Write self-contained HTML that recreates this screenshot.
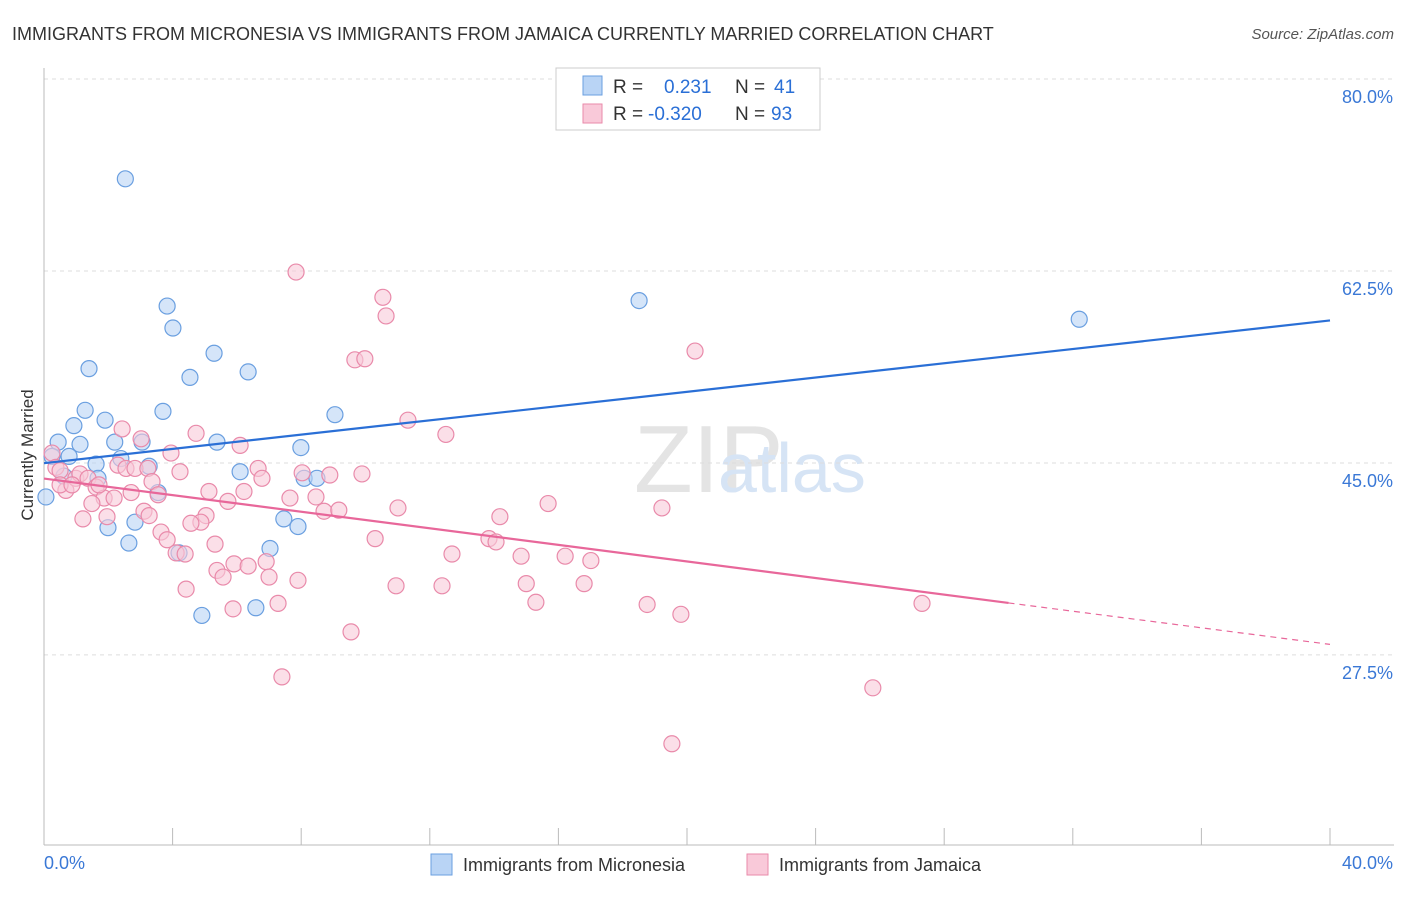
<!DOCTYPE html>
<html><head><meta charset="utf-8"><style>
body{margin:0;background:#fff;font-family:"Liberation Sans",sans-serif;}
svg text{font-family:"Liberation Sans",sans-serif;}
</style></head><body>
<svg id="c" width="1406" height="892" xmlns="http://www.w3.org/2000/svg">
<text x="12" y="40" font-size="18" fill="#333">IMMIGRANTS FROM MICRONESIA VS IMMIGRANTS FROM JAMAICA CURRENTLY MARRIED CORRELATION CHART</text>
<text x="1394" y="39" font-size="15" fill="#555" font-style="italic" text-anchor="end">Source: ZipAtlas.com</text>
<text x="634" y="492" font-size="96" fill="#e4e4e4" font-family="Liberation Serif">ZIP</text>
<text x="718" y="492" font-size="70" fill="#d6e4f5">atlas</text>
<text transform="translate(33,455) rotate(-90)" font-size="17" fill="#333" text-anchor="middle">Currently Married</text>
<g id="grid"></g><g id="axes"></g><g id="marks"></g>
<g>
<rect x="556" y="68" width="264" height="62" fill="#fff" stroke="#ccc"/>
<rect x="583" y="76" width="19" height="19" fill="#b9d4f5" stroke="#6a9fe0"/>
<rect x="583" y="104" width="19" height="19" fill="#f9c9d9" stroke="#e98aaa"/>
<text x="613" y="93" font-size="19" fill="#333">R =</text><text x="664" y="93" font-size="19" fill="#2a6fd6">0.231</text>
<text x="735" y="93" font-size="19" fill="#333">N =</text><text x="774" y="93" font-size="19" fill="#2a6fd6">41</text>
<text x="613" y="120" font-size="19" fill="#333">R =</text><text x="648" y="120" font-size="19" fill="#2a6fd6">-0.320</text>
<text x="735" y="120" font-size="19" fill="#333">N =</text><text x="771" y="120" font-size="19" fill="#2a6fd6">93</text>
</g>
<g>
<rect x="431" y="854" width="21" height="21" fill="#b9d4f5" stroke="#6a9fe0"/>
<text x="463" y="871" font-size="18" fill="#333">Immigrants from Micronesia</text>
<rect x="747" y="854" width="21" height="21" fill="#f9c9d9" stroke="#e98aaa"/>
<text x="779" y="871" font-size="18" fill="#333">Immigrants from Jamaica</text>
</g>
</svg>
<script>
const yTicks=[80,62.5,45,27.5];
const yTickLabels=["80.0%","62.5%","45.0%","27.5%"];
const xTickLabels=["0.0%","40.0%"];
const blueX=[2.53,3.83,4.01,18.51,32.20,1.40,5.29,4.54,6.35,1.28,3.70,1.90,0.93,9.05,0.44,1.12,2.20,3.05,5.38,7.99,0.25,0.78,2.39,1.62,3.27,6.10,1.68,0.62,8.09,8.49,0.06,3.55,2.83,1.99,7.46,7.90,2.64,7.03,4.20,4.91,6.59];
const blueY=[70.9,59.3,57.3,59.8,58.1,53.6,55.0,52.8,53.3,49.8,49.7,48.9,48.4,49.4,46.9,46.7,46.9,46.9,46.9,46.4,45.6,45.6,45.4,44.9,44.7,44.2,43.6,43.8,43.6,43.6,41.9,42.3,39.6,39.1,39.9,39.2,37.7,37.2,36.8,31.1,31.8];
const pinkX=[7.84,10.54,10.64,20.25,9.67,9.98,11.32,12.50,4.73,6.10,3.02,2.43,0.25,0.37,0.50,0.68,0.99,1.12,1.37,1.62,1.87,1.49,2.18,2.30,2.55,2.71,2.83,3.23,3.36,3.55,3.11,3.27,1.96,1.21,3.95,4.23,5.13,5.72,6.22,6.66,6.78,5.04,4.88,4.57,3.64,3.83,4.11,4.39,5.32,5.38,5.57,5.91,6.35,6.91,7.00,4.42,5.88,7.28,7.90,7.65,8.03,8.46,8.71,8.89,9.17,9.89,10.30,11.01,10.95,12.38,12.69,13.84,14.06,14.18,14.84,15.00,15.30,15.68,16.21,16.80,17.01,18.76,19.22,19.81,9.55,7.40,25.78,19.53,27.31,0.50,0.87,1.71];
const pinkY=[62.4,60.1,58.4,55.2,54.4,54.5,48.9,47.6,47.7,46.6,47.2,48.1,45.9,44.6,44.3,42.5,43.6,44.0,43.6,42.8,41.8,41.3,41.8,44.8,44.5,42.3,44.5,44.5,43.3,42.1,40.6,40.2,40.1,39.9,45.9,44.2,42.4,41.5,42.4,44.5,43.6,40.2,39.6,39.5,38.7,38.0,36.8,36.7,37.6,35.2,34.6,35.8,35.6,36.0,34.6,33.5,31.7,32.2,34.3,41.8,44.1,41.9,40.6,43.9,40.7,44.0,38.1,40.9,33.8,33.8,36.7,38.1,37.8,40.1,36.5,34.0,32.3,41.3,36.5,34.0,36.1,32.1,40.9,31.2,29.6,25.5,24.5,19.4,32.2,43.0,43.0,43.0];
const X0=44,X1=1330,Y80=79,PX=10.97;
const sx=v=>X0+(v/40)*(X1-X0), sy=v=>Y80+(80-v)*PX;
const NS="http://www.w3.org/2000/svg";
function mk(t,a,p){const e=document.createElementNS(NS,t);for(const k in a)e.setAttribute(k,a[k]);document.getElementById(p).appendChild(e);return e;}
yTicks.forEach((v,i)=>{
 const g=mk("line",{x1:X0,x2:1394,y1:sy(v),y2:sy(v),stroke:"#ddd","stroke-dasharray":"4,4"},"grid");
 
 
 const t=mk("text",{x:1393,y:sy(v)+24,"font-size":18,fill:"#3a78d6","text-anchor":"end"},"axes");
 t.textContent=yTickLabels[i];
 
 
});
const ax=mk("line",{x1:X0,x2:X0,y1:68,y2:845,stroke:"#bbb"},"axes");


const bx=mk("line",{x1:X0,x2:1394,y1:845,y2:845,stroke:"#bbb"},"axes");


for(let i=0;i<=10;i++){const t=mk("line",{x1:sx(i*4),x2:sx(i*4),y1:828,y2:845,stroke:"#bbb"},"axes");
 
 }
[[0,44,"start"],[40,1393,"end"]].forEach((d,i)=>{const t=mk("text",{x:d[1],y:869,"font-size":18,fill:"#3a78d6","text-anchor":d[2]},"axes");t.textContent=xTickLabels[i];
 
 });
function pts(xs,ys,f,s,n){xs.forEach((x,i)=>{const c=mk("circle",{cx:sx(x),cy:sy(ys[i]),r:8,fill:f,"fill-opacity":0.6,stroke:s,"stroke-width":1.2},"marks");
 
 });}
pts(blueX,blueY,"#b9d4f5","#6a9fe0","micronesia-point");
pts(pinkX,pinkY,"#f9c9d9","#e98aaa","jamaica-point");
function fit(xs,ys){const n=xs.length,mx=xs.reduce((a,b)=>a+b)/n,my=ys.reduce((a,b)=>a+b)/n;let sxy=0,sxx=0;xs.forEach((x,i)=>{sxy+=(x-mx)*(ys[i]-my);sxx+=(x-mx)**2});const b=sxy/sxx;return [my-b*mx,b];}
const [ba,bb]=fit(blueX,blueY),[pa,pb]=fit(pinkX,pinkY);
const l1=mk("line",{x1:sx(0),y1:sy(ba),x2:sx(40),y2:sy(ba+bb*40),stroke:"#2a6fd6","stroke-width":2.2},"marks");


const l2=mk("line",{x1:sx(0),y1:sy(pa),x2:sx(30),y2:sy(pa+pb*30),stroke:"#e8679a","stroke-width":2.2},"marks");


const l3=mk("line",{x1:sx(30),y1:sy(pa+pb*30),x2:sx(40),y2:sy(pa+pb*40),stroke:"#e8679a","stroke-width":1.2,"stroke-dasharray":"6,5"},"marks");


</script>
</body></html>
